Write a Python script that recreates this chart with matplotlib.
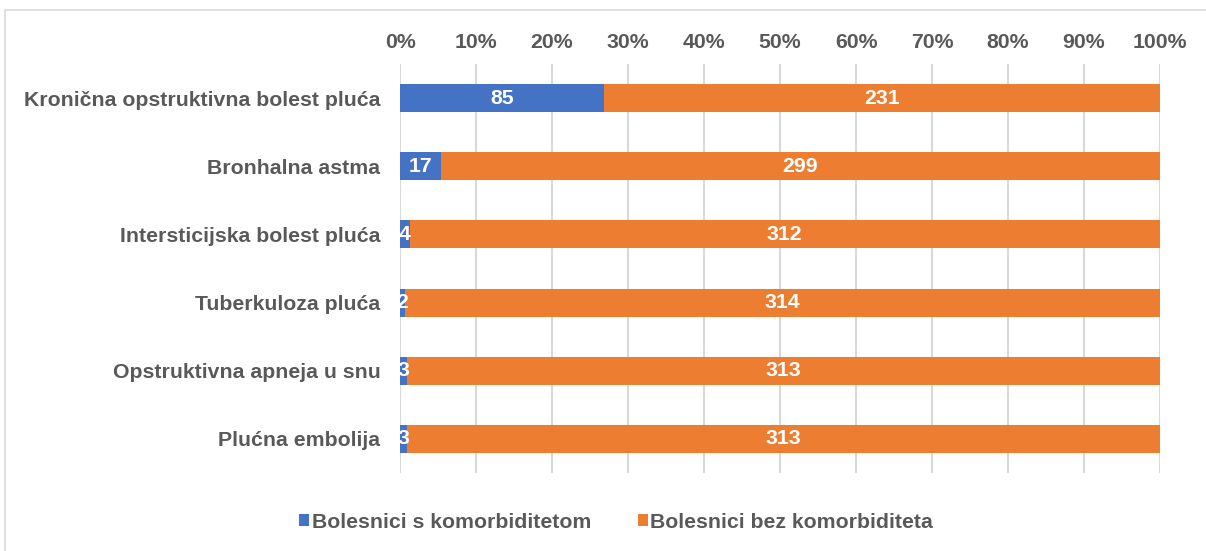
import numpy as np
import matplotlib
matplotlib.use('Agg')
import matplotlib.pyplot as plt
from matplotlib.patches import Rectangle
from matplotlib.ticker import PercentFormatter

categories = [
    'Kronična opstruktivna bolest pluća',
    'Bronhalna astma',
    'Intersticijska bolest pluća',
    'Tuberkuloza pluća',
    'Opstruktivna apneja u snu',
    'Plućna embolija',
]
with_comorb = [85, 17, 4, 2, 3, 3]
without_comorb = [231, 299, 312, 314, 313, 313]
series_names = ['Bolesnici s komorbiditetom', 'Bolesnici bez komorbiditeta']
tick_values = [0, 10, 20, 30, 40, 50, 60, 70, 80, 90, 100]

BLUE = '#4472C4'
ORANGE = '#ED7D31'
TEXT = '#595959'
GRID = '#D9D9D9'
FS = 15.3

plt.rcParams['font.family'] = ['Liberation Sans', 'DejaVu Sans']
plt.rcParams['font.weight'] = 'bold'

W, H = 1206, 551
fig = plt.figure(figsize=(W / 100, H / 100), dpi=100)

# chart border like the spreadsheet frame
fig.patches.append(Rectangle((5 / W, -0.05), 1.1, 1 - 10 / H + 0.05,
                             transform=fig.transFigure, fill=False,
                             edgecolor='#D9D9D9', linewidth=1.2))

ax = fig.add_axes([400 / W, 1 - 473 / H, 760 / W, 409 / H])

a = np.array(with_comorb, dtype=float)
b = np.array(without_comorb, dtype=float)
tot = a + b
pa = a / tot * 100
pb = b / tot * 100
y = np.arange(len(categories))

ax.barh(y, pa, height=0.41, color=BLUE, label=series_names[0], zorder=3)
ax.barh(y, pb, left=pa, height=0.41, color=ORANGE, label=series_names[1], zorder=3)

for i in range(len(categories)):
    ax.text(pa[i] / 2, y[i], str(with_comorb[i]), ha='center', va='center',
            color='white', fontsize=FS, fontweight='bold', zorder=4)
    ax.text(pa[i] + pb[i] / 2, y[i], str(without_comorb[i]), ha='center', va='center',
            color='white', fontsize=FS, fontweight='bold', zorder=4)

ax.set_xlim(0, 100)
ax.set_ylim(len(categories) - 0.5, -0.5)
ax.set_yticks(y)
ax.set_yticklabels(categories, fontsize=FS, color=TEXT, fontweight='bold')
ax.set_xticks(tick_values)
ax.xaxis.set_major_formatter(PercentFormatter(decimals=0))
ax.xaxis.tick_top()
ax.tick_params(axis='x', length=0, pad=9, labelsize=FS, labelcolor=TEXT)
ax.tick_params(axis='y', length=0, pad=14)
for lab in ax.get_xticklabels():
    lab.set_fontweight('bold')
ax.grid(axis='x', color=GRID, linewidth=1.5, zorder=0)
for s in ax.spines.values():
    s.set_visible(False)

leg = fig.legend(loc='center', bbox_to_anchor=(616 / W, 1 - 522 / H), ncol=2,
                 frameon=False, fontsize=FS, handlelength=0.5, handleheight=0.5,
                 handletextpad=0.1, columnspacing=2.2)
for t in leg.get_texts():
    t.set_color(TEXT)
    t.set_fontweight('bold')

fig.savefig('out.png', dpi=100)
